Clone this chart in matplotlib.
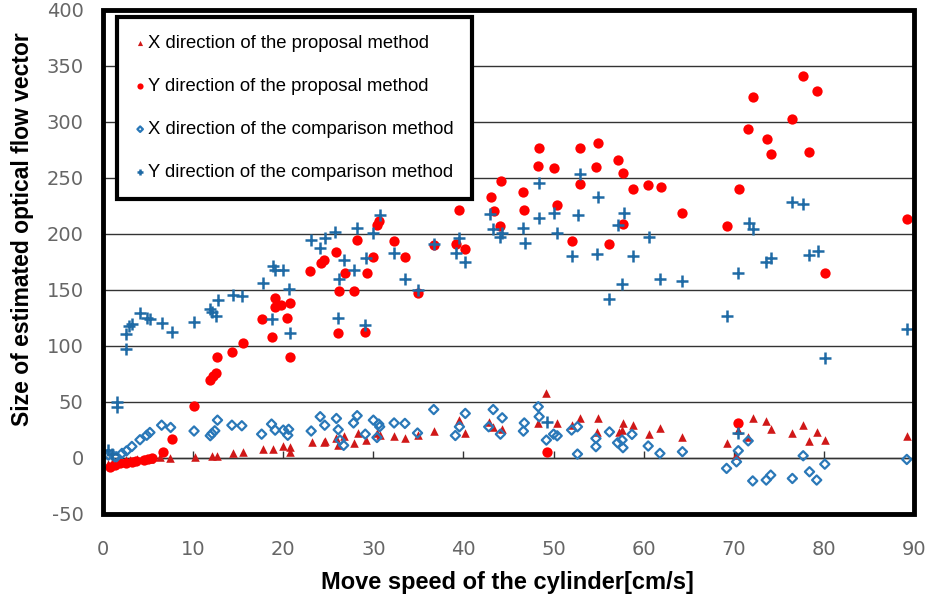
import numpy as np
import matplotlib
matplotlib.use("Agg")
import matplotlib.pyplot as plt
from matplotlib.patches import Rectangle

plt.rcParams["axes.unicode_minus"] = False

# X direction of the proposal method (red triangles)
px_x = [0.6, 1.0, 1.5, 2.0, 2.5, 3.0, 3.8, 4.5, 5.2, 6.3, 7.4, 10.2, 12.1, 12.6, 14.4, 15.5, 17.7, 18.9,
        20.0, 20.8, 20.8, 23.2, 24.5, 24.6, 25.9, 26.1, 26.75, 27.8, 28.3, 29.2, 30.4, 30.7, 32.3, 33.5,
        34.9, 36.7, 39.55, 40.2, 42.8, 43.3, 44.3, 48.3, 49.2, 50.4, 52.0, 52.9, 54.9, 54.8, 57.3, 57.6,
        57.7, 58.8, 60.6, 61.8, 64.3, 69.2, 70.3, 70.5, 71.6, 72.1, 73.6, 74.1, 76.5, 77.7, 78.4, 79.2,
        80.1, 89.2]
px_y = [-6, -5, -4, -3, -2.5, -2, -1.5, -1.5, -1, 0.8, -0.7, 0.8, 1.7, 1.7, 4.4, 5.3, 7.4, 7.4,
        10.4, 9.2, 5.3, 14, 14, 15, 18, 11, 19.3, 12.7, 21.7, 15.7, 21.7, 20, 19.3, 17.2,
        20, 24, 33.5, 21.7, 32, 27.6, 26, 30.6, 57.4, 30.6, 29, 35, 35, 23, 23, 25,
        31, 29, 20.8, 26.7, 18.7, 12.7, 2.3, 24.6, 18.7, 35, 32.7, 26, 22, 29, 14.8, 23,
        15.6, 19.3]

# Y direction of the proposal method (red circles)
py_x = [0.8, 1.3, 1.9, 2.6, 3.2, 3.7, 4.5, 5.0, 5.4, 6.6, 7.6, 10.1, 11.9, 12.2, 12.5, 12.7, 14.3, 15.5,
        17.6, 18.8, 19.1, 19.1, 19.8, 20.4, 20.7, 20.7, 23.0, 24.2, 24.5, 25.8, 26.1, 26.2, 26.9, 27.9,
        28.2, 29.1, 29.3, 30.0, 30.4, 30.6, 32.3, 33.5, 35.0, 36.7, 39.15, 39.5, 40.2, 43.0, 43.4, 44.1,
        44.2, 46.65, 46.7, 48.3, 48.4, 49.3, 50.0, 50.4, 52.0, 52.9, 52.9, 54.7, 54.9, 56.2, 57.1, 57.7,
        57.7, 58.8, 60.5, 61.9, 64.3, 69.2, 70.5, 70.6, 71.6, 72.1, 73.7, 74.1, 76.5, 77.7, 78.4, 79.2,
        80.1, 89.2]
py_y = [-8, -6.6, -5, -4.5, -3.6, -3, -2.2, -1.5, -0.7, 5.3, 16.3, 46.4, 69.4, 73, 76, 89.5, 94.6, 102,
        124, 108, 143, 135, 136, 125, 138.5, 89.5, 166.8, 173.6, 176.6, 184, 111, 149, 164.7, 149,
        194.5, 112.5, 165.3, 179.6, 208, 211.4, 193.5, 179, 146.8, 190, 190.6, 221, 186.7, 233, 220, 207,
        247, 237.6, 221, 261, 277, 5.3, 258.5, 225.7, 193.5, 244.4, 276.3, 260, 281.4, 190.5, 266, 254,
        209, 240, 243.6, 242, 219, 207, 31, 240, 293.6, 322.5, 284.4, 271, 303, 341, 272.8, 327.6,
        164.6, 213]

# X direction of the comparison method (blue diamonds)
cx_x = [0.6, 1.3, 1.5, 2.1, 2.6, 3.2, 4.1, 4.85, 5.2, 6.5, 7.5, 10.1, 11.9, 12.1, 12.4, 12.7, 14.3, 15.4,
        17.6, 18.7, 19.1, 20.0, 20.5, 20.6, 23.1, 24.1, 24.6, 25.9, 26.1, 26.3, 26.7, 27.8, 28.2, 29.1,
        30.0, 30.4, 30.6, 30.7, 32.3, 33.5, 34.9, 36.7, 39.1, 39.55, 40.2, 42.8, 43.3, 44.1, 44.3, 46.65,
        46.75, 48.3, 48.4, 49.2, 50.0, 50.4, 52.0, 52.65, 52.65, 54.7, 54.7, 56.2, 57.1, 57.6, 57.7, 58.7,
        60.5, 61.8, 64.3, 69.2, 70.3, 70.5, 71.6, 72.1, 73.6, 74.1, 76.5, 77.7, 78.4, 79.2, 80.1, 89.2]
cx_y = [2.3, 0.8, 0.8, 3.8, 6, 10, 16, 20, 22.5, 29, 27, 23.8, 19.6, 21.6, 24, 33.5, 29, 28.5,
        21, 30, 24.6, 24.6, 20, 25.3, 23.8, 36.6, 29, 35, 25, 15.7, 11, 31, 37.5, 21,
        33.5, 18, 30, 27.6, 31, 30.6, 22, 43, 19.8, 27.6, 39.5, 27.6, 43, 21, 35.6, 23.7,
        31, 45.5, 36.6, 15.7, 21, 19.5, 24.7, 27.6, 3.2, 17.2, 9.8, 23, 13.3, 15.7, 8.9, 20.8,
        10.4, 3.8, 5.3, -9.6, -3.7, 6.2, 15, -20.8, -20, -15.6, -18.6, 1.7, -12.6, -20, -5.8, -1.6]

# Y direction of the comparison method (blue plus)
cy_x = [0.6, 1.0, 1.6, 1.6, 2.6, 2.6, 2.9, 3.2, 4.1, 4.85, 5.2, 6.5, 7.6, 10.1, 11.9, 12.1, 12.5, 12.8,
        14.4, 15.4, 17.7, 18.8, 18.9, 19.1, 20.0, 20.6, 20.7, 23.05, 24.1, 24.6, 25.7, 26.1, 26.2, 26.7,
        27.9, 28.2, 29.1, 29.2, 30.0, 30.7, 32.3, 33.5, 34.9, 36.7, 39.15, 39.55, 40.2, 42.9, 43.3, 44.0,
        44.25, 46.65, 46.85, 48.4, 48.43, 49.3, 50.0, 50.4, 52.1, 52.75, 52.9, 54.8, 54.9, 56.2, 57.1, 57.6,
        57.8, 58.8, 60.6, 61.8, 64.3, 69.2, 70.5, 70.5, 71.7, 72.1, 73.6, 74.1, 76.5, 77.7, 78.4, 79.3,
        80.1, 89.2]
cy_y = [6.8, 3, 50, 45, 97, 110.5, 117.6, 119.7, 129.5, 125, 123.5, 120.6, 112.5, 120.9, 133, 130, 126.5, 141,
        145, 144, 155.7, 123.5, 171, 167.6, 167.6, 151, 111.6, 194.5, 187, 196, 202, 124.5, 159.6, 176.6,
        167.6, 205, 118.5, 178, 201, 216.7, 182.5, 159.3, 149.8, 190.6, 183, 196, 175, 218, 204, 197.5,
        201, 205, 192, 213.8, 245, 32, 219, 201, 180, 217, 253, 182, 233, 142, 207.8, 154.8,
        218.5, 180, 197, 159.6, 158, 126.5, 164.6, 21.6, 210, 204, 175, 178, 228, 226.5, 181, 184.6,
        88.7, 114.6]

labels = ["X direction of the proposal method",
          "Y direction of the proposal method",
          "X direction of the comparison method",
          "Y direction of the comparison method"]
x_ticks = list(range(0, 91, 10))
y_ticks = list(range(-50, 401, 50))

fig = plt.figure(figsize=(9.3, 6.01), dpi=100)
ax = fig.add_axes([0.1108, 0.1454, 0.872, 0.838])

ax.scatter(px_x, px_y, marker="^", s=38, color="#D01818", lw=0, zorder=3, label=labels[0])
ax.scatter(py_x, py_y, marker="o", s=55, color="#FF0000", lw=0, zorder=4, label=labels[1])
ax.scatter(cx_x, cx_y, marker="D", s=22, facecolor="none", edgecolor="#2A78B8", lw=1.6, zorder=5, label=labels[2])
ax.scatter(cy_x, cy_y, marker="+", s=70, color="#1F6AA5", lw=1.8, zorder=6, label=labels[3])

ax.set_xlim(0, 90)
ax.set_ylim(-50, 400)
ax.set_yticks(y_ticks)
ax.grid(axis="y", color="#333333", lw=1.0, zorder=1)
ax.set_axisbelow(True)

# category axis crosses at y=0, labels stay at the bottom
ax.spines["bottom"].set_position(("data", 0))
ax.spines["bottom"].set_color("#333333")
ax.spines["bottom"].set_linewidth(1.0)
for s in ["left", "right", "top"]:
    ax.spines[s].set_visible(False)
ax.set_xticks(x_ticks)
ax.tick_params(axis="x", direction="in", length=5, width=1, color="#333333", labelbottom=False)
ax.tick_params(axis="y", length=0, pad=14, labelsize=14, labelcolor="#666666")

sec = ax.secondary_xaxis(0)
sec.set_xticks(x_ticks)
sec.tick_params(length=0, pad=19, labelsize=14, labelcolor="#666666")
sec.spines["bottom"].set_visible(False)

ax.add_patch(Rectangle((0, 0), 1, 1, transform=ax.transAxes, fill=False,
                       ec="black", lw=3.5, clip_on=False, zorder=10))

fig.text(0.0237, 0.618, "Size of estimated optical flow vector", fontsize=16.5, fontweight="bold",
         family="Liberation Sans", ha="center", va="center", rotation=90)
fig.text(0.5457, 0.030, "Move speed of the cylinder[cm/s]", fontsize=17, fontweight="bold",
         family="Liberation Sans", ha="center", va="center")

leg = ax.legend(loc="upper left", bbox_to_anchor=(0.0173, 0.986), frameon=True, fancybox=False,
                edgecolor="black", framealpha=1, markerscale=0.6,
                handlelength=0.6, handletextpad=0.15, labelspacing=1.42, borderpad=0.95,
                borderaxespad=0, prop={"family": "Liberation Sans", "size": 13.3})
leg.get_frame().set_linewidth(3)
leg.set_zorder(11)

fig.savefig("out.png", dpi=100)
